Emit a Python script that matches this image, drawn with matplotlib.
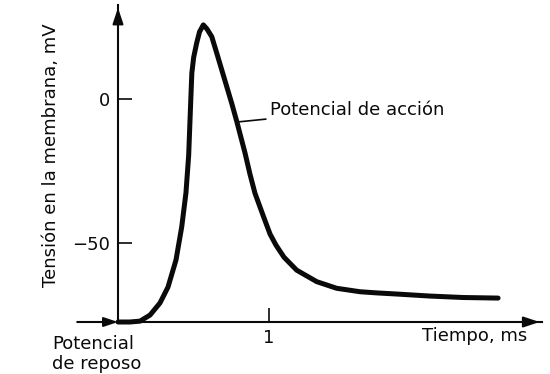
import matplotlib
matplotlib.use("Agg")
import matplotlib.pyplot as plt

# ── Data ──────────────────────────────────────────────────────────────────────
t_ms = [0.0, 0.079, 0.146, 0.212, 0.278, 0.331, 0.384, 0.422, 0.450, 0.468,
        0.482, 0.489, 0.501, 0.521, 0.540, 0.565, 0.589, 0.621, 0.654, 0.687,
        0.720, 0.753, 0.786, 0.841, 0.874, 0.907, 0.967, 1.007, 1.046,
        1.099, 1.183, 1.316, 1.448, 1.603, 1.713, 1.848, 2.066, 2.285, 2.517]
v_mv = [-77.3, -77.3, -77.0, -74.9, -70.7, -65.2, -55.8, -44.3, -32.5, -19.5,
        -0.2, 9.1, 14.5, 19.5, 23.4, 25.8, 24.4, 21.7, 16.0, 10.2,
        4.4, -1.4, -7.6, -18.6, -26.0, -32.6, -41.2, -46.8, -50.6,
        -54.8, -59.3, -63.3, -65.6, -66.8, -67.2, -67.6, -68.3, -68.8, -69.0]
V_REST = -77.3
Y_TICKS = [0, -50]
X_TICKS = [1]
T_MAX = 2.81
V_TOP = 32.7

BLACK = "#0a0a0a"
FS = 13

fig = plt.figure(figsize=(5.5, 3.74), dpi=100)
fig.patch.set_facecolor("white")
ax = fig.add_axes([118/550, 52/374, 151*T_MAX/550, 317/374])
ax.set_xlim(0, T_MAX)
ax.set_ylim(V_REST, V_TOP)

for s in ("top", "right"):
    ax.spines[s].set_visible(False)
for s in ("left", "bottom"):
    ax.spines[s].set_linewidth(1.5)
    ax.spines[s].set_color(BLACK)

ax.set_yticks(Y_TICKS)
ax.set_yticklabels([str(v) if v >= 0 else "\u2212" + str(-v) for v in Y_TICKS])
ax.set_xticks(X_TICKS)
ax.tick_params(direction="in", length=10, width=1.2, color=BLACK,
               labelsize=FS, labelcolor=BLACK)
ax.tick_params(axis="y", pad=6)
ax.tick_params(axis="x", pad=5)

# axis arrowheads
ax.annotate("", xy=(T_MAX, V_REST), xytext=(T_MAX - 0.15, V_REST),
            arrowprops=dict(arrowstyle="-|>,head_length=0.6,head_width=0.2",
                            color=BLACK, lw=1.5, mutation_scale=16),
            annotation_clip=False)
ax.annotate("", xy=(0, V_TOP), xytext=(0, V_TOP - 8),
            arrowprops=dict(arrowstyle="-|>,head_length=0.6,head_width=0.2",
                            color=BLACK, lw=1.5, mutation_scale=16),
            annotation_clip=False)
# resting potential arrow
ax.annotate("", xy=(0.0, V_REST), xytext=(-0.27, V_REST),
            arrowprops=dict(arrowstyle="-|>,head_length=0.6,head_width=0.2",
                            color=BLACK, lw=1.5, mutation_scale=14,
                            shrinkA=0, shrinkB=0),
            annotation_clip=False)

# action potential curve
ax.plot(t_ms, v_mv, color=BLACK, linewidth=3.6, solid_capstyle="round",
        solid_joinstyle="round", clip_on=False, zorder=4)

ax.annotate("Potencial de acción", xy=(0.79, -7.9), xytext=(1.007, -3.7),
            ha="left", va="center", fontsize=FS, color=BLACK,
            arrowprops=dict(arrowstyle="-", color=BLACK, lw=1.2, shrinkA=1, shrinkB=0))

ax.set_ylabel("Tensión en la membrana, mV", fontsize=FS, color=BLACK)
ax.yaxis.set_label_coords(-58/(151*T_MAX), 0.527)

fig.text(527/550, 1 - 336/374, "Tiempo, ms", ha="right", va="center",
         fontsize=FS, color=BLACK)
fig.text(52/550, 1 - 354/374, "Potencial\nde reposo", ha="left", va="center",
         fontsize=FS, color=BLACK, linespacing=1.15)

fig.savefig("out.png", dpi=100)
